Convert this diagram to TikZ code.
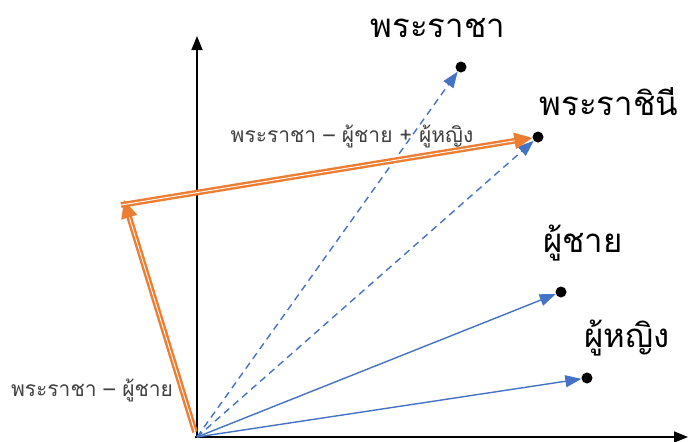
\documentclass[tikz,border=0pt]{standalone}
\usepackage{fontspec}
\newfontfamily\thaifont[Script=Thai]{Loma}
\usetikzlibrary{arrows.meta}
\definecolor{vblue}{RGB}{68,114,196}
\definecolor{vorange}{RGB}{237,125,49}
\tikzset{
  dot/.style={circle,fill=black,inner sep=0pt,minimum size=11pt},
  axis/.style={line width=1.6pt,-{Triangle[length=14pt,width=11pt]}},
  vec/.style={draw=vblue,line width=1.4pt,-{Triangle[length=16pt,width=12pt]}},
  dvec/.style={vec,dash pattern=on 7pt off 5pt},
  ovec/.style={draw=vorange,line width=2.4pt,double=white,double distance=0.9pt,-{Triangle[length=18pt,width=16pt]}},
  biglab/.style={font=\thaifont\fontsize{33}{36}\selectfont,inner sep=0pt},
  smalllab/.style={font=\thaifont\fontsize{21}{24}\selectfont,inner sep=0pt,text=black!75}
}
\begin{document}
\begin{tikzpicture}[x=1pt,y=-1pt]
\useasboundingbox (0,0) rectangle (689,442);
\coordinate (O) at (197,437);
\coordinate (ytop) at (197,36);
\coordinate (xend) at (688,437);
\draw[axis] (O) -- (ytop);
\draw[axis] (195,437) -- (xend);
\node[dot] (king) at (461,67) {};
\node[dot] (queen) at (538,137) {};
\node[dot] (man) at (561,292) {};
\node[dot] (woman) at (587,378) {};
\draw[dvec] (O) -- (king);
\draw[dvec] (O) -- (queen);
\draw[vec] (O) -- (man);
\draw[vec] (O) -- (woman);
\coordinate (mid) at (124,200);
\draw[ovec] (195,432) -- (mid);
\draw[ovec] (121,205) -- (queen);
\node[biglab] (lking) at (438,28) {พระราชา};
\node[biglab] (lqueen) at (609,102) {พระราชินี};
\node[biglab] (lman) at (583,243) {ผู้ชาย};
\node[biglab] (lwoman) at (627,338) {ผู้หญิง};
\node[smalllab] (lsum) at (352,136) {พระราชา – ผู้ชาย + ผู้หญิง};
\node[smalllab] (ldiff) at (92,390) {พระราชา – ผู้ชาย};
\end{tikzpicture}
\end{document}
